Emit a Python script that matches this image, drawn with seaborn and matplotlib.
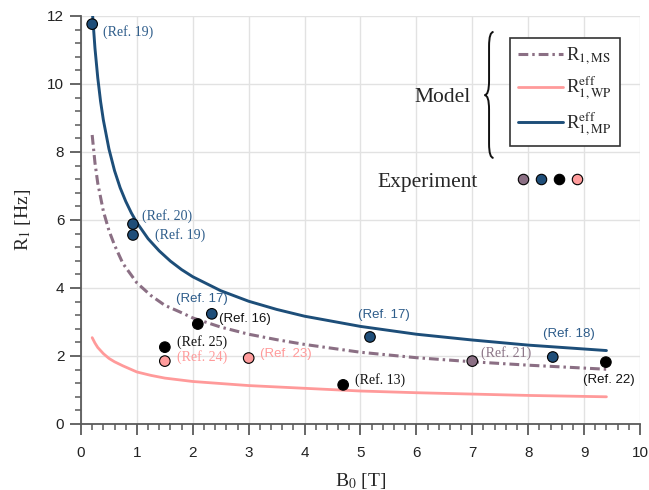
import numpy as np
import pandas as pd
import matplotlib
matplotlib.use("Agg")
import matplotlib.pyplot as plt
import seaborn as sns
from matplotlib.lines import Line2D
from matplotlib.legend_handler import HandlerTuple
from matplotlib.path import Path
from matplotlib.patches import PathPatch

# model curves
b0_ms = [0.2, 0.25, 0.3, 0.4, 0.5, 0.6, 0.75, 1.0, 1.25, 1.5, 1.75, 2.0, 2.5, 3.0, 3.5, 4.0, 5.0, 6.0, 7.0, 8.0, 9.4]
r1_ms = [8.5, 7.68, 7.08, 6.26, 5.69, 5.26, 4.72, 4.15, 3.78, 3.49, 3.31, 3.12, 2.85, 2.64, 2.48, 2.34, 2.11, 1.95, 1.83, 1.73, 1.61]

b0_wp = [0.2, 0.25, 0.3, 0.4, 0.5, 0.6, 0.75, 1.0, 1.25, 1.5, 2.0, 2.5, 3.0, 4.0, 5.0, 6.0, 7.0, 8.0, 9.4]
r1_wp = [2.54, 2.38, 2.25, 2.07, 1.93, 1.83, 1.71, 1.53, 1.43, 1.35, 1.25, 1.19, 1.13, 1.05, 0.97, 0.92, 0.88, 0.84, 0.80]

b0_mp = [0.2, 0.25, 0.3, 0.35, 0.4, 0.5, 0.6, 0.7, 0.8, 0.9, 1.0, 1.2, 1.4, 1.6, 1.8, 2.0, 2.5, 3.0, 3.5, 4.0,
         5.0, 6.0, 7.0, 8.0, 9.4]
r1_mp = [12.2, 11.05, 10.18, 9.49, 8.94, 8.09, 7.45, 6.95, 6.55, 6.21, 5.92, 5.45, 5.09, 4.79, 4.54, 4.33, 3.92,
         3.61, 3.37, 3.17, 2.87, 2.64, 2.47, 2.32, 2.16]

# experimental points
exp_b0 = [0.2, 0.93, 0.93, 2.34, 2.09, 1.5, 1.5, 3.0, 4.69, 5.17, 7.0, 8.44, 9.39]
exp_r1 = [11.76, 5.88, 5.56, 3.24, 2.94, 2.26, 1.85, 1.94, 1.15, 2.56, 1.85, 1.97, 1.82]
exp_group = ["MP", "MP", "MP", "MP", "other", "other", "WP", "WP", "other", "MP", "MS", "MP", "other"]
exp_ref = ["(Ref. 19)", "(Ref. 20)", "(Ref. 19)", "(Ref. 17)", "(Ref. 16)", "(Ref. 25)", "(Ref. 24)",
           "(Ref. 23)", "(Ref. 13)", "(Ref. 17)", "(Ref. 21)", "(Ref. 18)", "(Ref. 22)"]

# label placement (offset points) and font
lab_dx = [8, 6.5, 16, -7, 15, 8.6, 8.6, 8, 8.6, 10, 6.5, 11.5, 2]
lab_dy = [-5.8, 5.8, 0, 11, 3.6, 3.6, 2.9, 2.9, 3.6, 16, 5.8, 16.5, -13]
lab_ha = ["left", "left", "left", "center", "left", "left", "left", "left", "left", "center", "left", "center", "center"]
lab_sans = [False, False, False, True, True, False, False, True, False, True, False, True, True]

line_col = {"MS": "#8b6f84", "WP": "#ff9a9a", "MP": "#1d4e79"}
dot_col = {"MS": "#8b6f84", "WP": "#ff9c9c", "MP": "#1f4e79", "other": "#000000"}
text_col = {"MS": "#8b7486", "WP": "#ff9a9a", "MP": "#2d5c8a", "other": "#111111"}

sns.set_theme(style="ticks")
plt.rcParams["font.family"] = ["Liberation Sans", "DejaVu Sans"]
plt.rcParams["mathtext.fontset"] = "stix"

SERIF = ["Liberation Serif", "DejaVu Serif"]
SANS = ["Liberation Sans", "DejaVu Sans"]

fig = plt.figure(figsize=(6.49, 4.90), dpi=100)
ax = fig.add_axes([0.1248, 0.1347, 0.8613, 0.8327])

sns.lineplot(x=b0_ms, y=r1_ms, ax=ax, color=line_col["MS"], lw=2.2, linestyle=(0, (3.2, 1.3, 0.8, 1.3)),
             label=r"R$_{\mathrm{1,MS}}$")
sns.lineplot(x=b0_wp, y=r1_wp, ax=ax, color=line_col["WP"], lw=2.0,
             label=r"R$^{\mathrm{eff}}_{\mathrm{1,WP}}$")
sns.lineplot(x=b0_mp, y=r1_mp, ax=ax, color=line_col["MP"], lw=2.1,
             label=r"R$^{\mathrm{eff}}_{\mathrm{1,MP}}$")

df = pd.DataFrame({"B0": exp_b0, "R1": exp_r1, "group": exp_group})
sns.scatterplot(data=df, x="B0", y="R1", hue="group", palette=dot_col, s=58, edgecolor="black",
                linewidth=0.8, legend=False, ax=ax, zorder=5)

for i in range(len(exp_b0)):
    ax.annotate(exp_ref[i], (exp_b0[i], exp_r1[i]), xytext=(lab_dx[i], lab_dy[i]), textcoords="offset points",
                ha=lab_ha[i], va="center", color=text_col[exp_group[i]],
                family=SANS if lab_sans[i] else SERIF, fontsize=9.5 if lab_sans[i] else 10, zorder=6)

ax.set_xlim(0, 10)
ax.set_ylim(0, 12)
ax.set_xticks(np.arange(0, 11, 1))
ax.set_yticks(np.arange(0, 13, 2))
ax.set_xticks(np.arange(0, 10.01, 0.2), minor=True)
ax.set_yticks(np.arange(0, 12.01, 0.4), minor=True)
ax.grid(True, which="major", color="#e2e2e2", lw=1.0)
ax.set_axisbelow(True)
for s in ["top", "right"]:
    ax.spines[s].set_visible(False)
for s in ["left", "bottom"]:
    ax.spines[s].set_color("#5a5a5a")
    ax.spines[s].set_linewidth(1.3)
ax.tick_params(which="major", length=8, width=1.3, color="#5a5a5a", labelsize=11, labelcolor="#222222")
ax.tick_params(which="minor", length=4.3, width=1.1, color="#5a5a5a")
ax.tick_params(axis="x", which="major", pad=8)
ax.tick_params(axis="y", which="major", pad=4)

ax.set_xlabel(r"B$_{\mathrm{0}}$ [T]", family=SERIF, fontsize=14)
ax.set_ylabel(r"R$_{\mathrm{1}}$ [Hz]", family=SERIF, fontsize=14)
ax.xaxis.set_label_coords(0.5, -0.115)
ax.yaxis.set_label_coords(-0.085, 0.5)

leg = ax.legend(loc="upper right", bbox_to_anchor=(0.964, 0.946), borderaxespad=0, fancybox=False,
                framealpha=1, edgecolor="#333333", handlelength=2.4, handletextpad=0.2,
                labelspacing=0.45, borderpad=0.4, prop={"family": SERIF, "size": 13.5})
leg.get_frame().set_linewidth(1.2)
ax.add_artist(leg)

exp_handles = tuple(Line2D([], [], marker="o", ls="", markerfacecolor=dot_col[g], markeredgecolor="black",
                           markeredgewidth=0.8, markersize=7.5) for g in ["MS", "MP", "other", "WP"])
ax.legend(handles=[exp_handles], labels=["Experiment"], handler_map={tuple: HandlerTuple(ndivide=None, pad=0)},
          markerfirst=False, frameon=False, loc="center left", bbox_to_anchor=(0.53, 0.594), borderaxespad=0,
          borderpad=0, handlelength=3.35, handletextpad=1.68, prop={"family": SERIF, "size": 15.5})

ax.text(0.646, 0.801, "Model", transform=ax.transAxes, ha="center", va="center", family=SERIF, fontsize=15.5)

# curly brace
xr, xt = 0.738, 0.722
xm = (xr + xt) / 2
yt, yb, ym, d = 0.961, 0.652, 0.806, 0.035
verts = [(xr, yt), (xm, yt), (xm, yt - d), (xm, ym + d), (xm, ym), (xt, ym),
         (xm, ym), (xm, ym - d), (xm, yb + d), (xm, yb), (xr, yb)]
codes = [Path.MOVETO, Path.CURVE3, Path.CURVE3, Path.LINETO, Path.CURVE3, Path.CURVE3,
         Path.CURVE3, Path.CURVE3, Path.LINETO, Path.CURVE3, Path.CURVE3]
ax.add_patch(PathPatch(Path(verts, codes), transform=ax.transAxes, fill=False, lw=1.4, color="#111111",
                       clip_on=False))

fig.savefig("out.png", dpi=100)
